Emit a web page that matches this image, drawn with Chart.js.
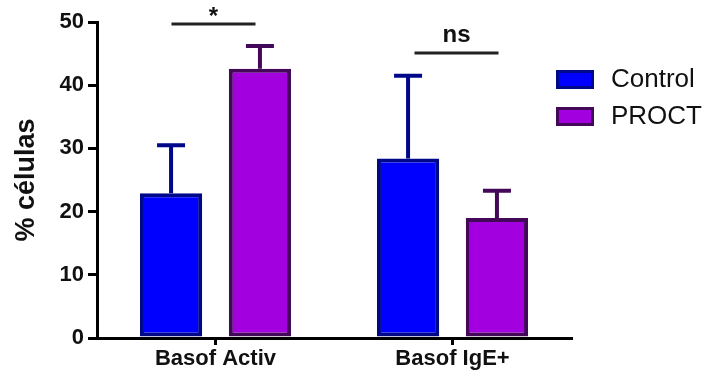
<!DOCTYPE html>
<html>
<head>
<meta charset="utf-8">
<script src="https://cdn.jsdelivr.net/npm/chart.js@4"></script>
<style>
html,body{margin:0;padding:0;background:#fff;}
</style>
</head>
<body>
<canvas id="grafico" width="705" height="378"></canvas>
<script>
var categorias = ["Basof Activ", "Basof IgE+"];
var control = [22.9, 28.4];
var controlErr = [7.6, 13.1];
var proct = [42.6, 19.0];
var proctErr = [3.6, 4.3];
var sigTextos = ["*", "ns"];
var sigAlturas = [49.7, 45.1];
var yTicks = [0, 10, 20, 30, 40, 50];

var FUENTE = "'Liberation Sans', Arial, sans-serif";

// barras de error (solo hacia arriba)
var errorBars = {
    id: "errorBars",
    afterDatasetsDraw: function (chart) {
        var ctx = chart.ctx;
        var y = chart.scales.y;
        chart.data.datasets.forEach(function (ds, i) {
            var meta = chart.getDatasetMeta(i);
            meta.data.forEach(function (bar, j) {
                var top = y.getPixelForValue(ds.data[j] + ds.errores[j]);
                ctx.save();
                ctx.strokeStyle = ds.borderColor;
                ctx.lineWidth = 4;
                ctx.beginPath();
                ctx.moveTo(bar.x, bar.y);
                ctx.lineTo(bar.x, top);
                ctx.moveTo(bar.x - 14, top);
                ctx.lineTo(bar.x + 14, top);
                ctx.stroke();
                ctx.restore();
            });
        });
    }
};

// lineas de significancia y leyenda
var extras = {
    id: "extras",
    afterDraw: function (chart) {
        var ctx = chart.ctx;
        var x = chart.scales.x;
        var y = chart.scales.y;
        ctx.save();
        sigTextos.forEach(function (t, i) {
            var cx = x.getPixelForValue(i) + (i == 0 ? -2 : 4);
            var py = y.getPixelForValue(sigAlturas[i]);
            ctx.strokeStyle = "#222";
            ctx.lineWidth = 3;
            ctx.beginPath();
            ctx.moveTo(cx - 42, py);
            ctx.lineTo(cx + 42, py);
            ctx.stroke();
            ctx.fillStyle = "#111";
            ctx.textAlign = "center";
            ctx.textBaseline = "bottom";
            if (t == "*") {
                ctx.font = "bold 24px " + FUENTE;
                ctx.fillText(t, cx, py + 5);
            } else {
                ctx.font = "bold 24px " + FUENTE;
                ctx.fillText(t, cx, py - 6);
            }
        });
        // leyenda
        var lx = 556, ly = [70, 107];
        chart.data.datasets.forEach(function (ds, i) {
            ctx.fillStyle = ds.backgroundColor;
            ctx.fillRect(lx, ly[i], 38, 19);
            ctx.strokeStyle = ds.borderColor;
            ctx.lineWidth = 3;
            ctx.strokeRect(lx + 1.5, ly[i] + 1.5, 35, 16);
            ctx.fillStyle = "#111";
            ctx.font = "26px " + FUENTE;
            ctx.textAlign = "left";
            ctx.textBaseline = "middle";
            ctx.fillText(ds.label, 611, ly[i] + 10);
        });
        ctx.restore();
    }
};

var ctx = document.getElementById("grafico").getContext("2d");
new Chart(ctx, {
    type: "bar",
    data: {
        labels: categorias,
        datasets: [
            {
                label: "Control",
                data: control,
                errores: controlErr,
                backgroundColor: "#0000FF",
                borderColor: "#00088A",
                borderWidth: 4,
                borderSkipped: false,
                categoryPercentage: 0.75,
                barPercentage: 0.7
            },
            {
                label: "PROCT",
                data: proct,
                errores: proctErr,
                backgroundColor: "#A300E0",
                borderColor: "#430858",
                borderWidth: 4,
                borderSkipped: false,
                categoryPercentage: 0.75,
                barPercentage: 0.7
            }
        ]
    },
    options: {
        responsive: false,
        animation: false,
        layout: { padding: { left: 0, right: 134, top: 22, bottom: 0 } },
        plugins: {
            legend: { display: false },
            tooltip: { enabled: false }
        },
        scales: {
            x: {
                grid: { display: true, drawOnChartArea: false, offset: false, color: "#000", lineWidth: 3, tickLength: 7 },
                border: { color: "#000", width: 3 },
                ticks: { color: "#111", font: { family: FUENTE, size: 22, weight: "bold" }, padding: 1 },
                afterFit: function (s) { s.height = 40; }
            },
            y: {
                min: 0,
                max: 50,
                afterBuildTicks: function (s) { s.ticks = yTicks.map(function (v) { return { value: v }; }); },
                grid: { display: true, drawOnChartArea: false, color: "#000", lineWidth: 3, tickLength: 9 },
                border: { color: "#000", width: 3 },
                ticks: { color: "#111", font: { family: FUENTE, size: 22, weight: "bold" }, padding: 4 },
                title: { display: true, text: "% células", color: "#111", font: { family: FUENTE, size: 27, weight: "bold" }, padding: { top: 10, bottom: 0 } },
                afterFit: function (s) { s.width = 97; }
            }
        }
    },
    plugins: [errorBars, extras]
});
</script>
</body>
</html>
